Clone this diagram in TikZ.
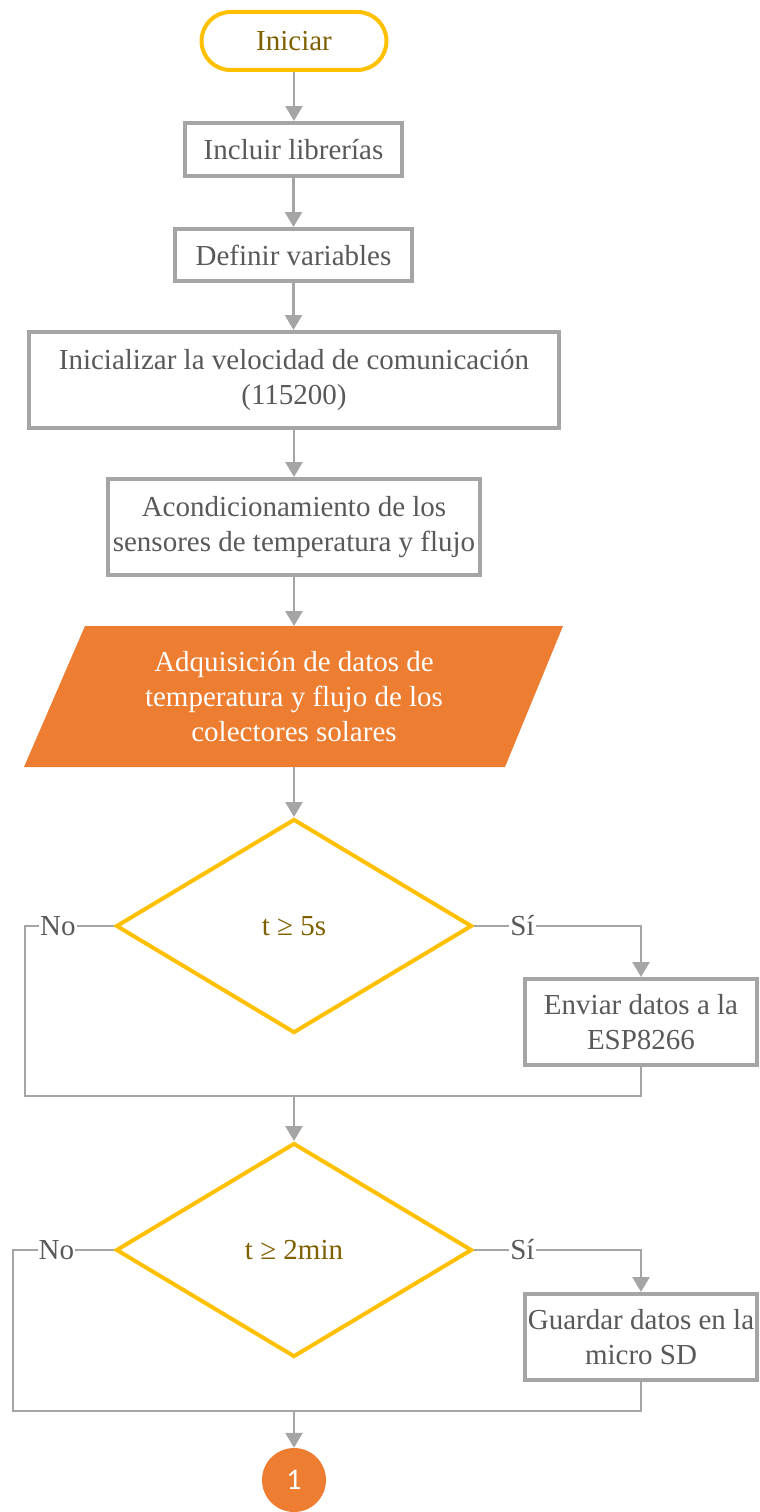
\documentclass[tikz,border=0pt]{standalone}
\usepackage{fontspec}
\setmainfont{Liberation Serif}
\newfontfamily\timesfont{Liberation Serif}
\newfontfamily\calibfont{Carlito}
\usetikzlibrary{shapes.geometric,arrows.meta}
\definecolor{ogold}{HTML}{FFC000}
\definecolor{dgold}{HTML}{7F6000}
\definecolor{lgray}{HTML}{A5A5A5}
\definecolor{tgray}{HTML}{595959}
\definecolor{orng}{HTML}{ED7D31}
\newcommand\bigfs{\timesfont\fontsize{29}{35}\selectfont}
\begin{document}
\begin{tikzpicture}[x=1pt,y=-1pt,
  startbox/.style={draw=ogold,line width=4pt,rounded corners=29pt,fill=white,text=dgold,
    minimum width=185pt,minimum height=58pt,inner sep=0pt,font=\bigfs},
  procbox/.style={draw=lgray,line width=4pt,fill=white,text=tgray,align=center,
    inner sep=0pt,font=\bigfs},
  decbox/.style={diamond,draw=ogold,line width=4pt,fill=white,text=dgold,
    minimum width=356pt,minimum height=214pt,inner sep=0pt,font=\bigfs},
  conn/.style={draw=lgray,line width=2.6pt,-{Triangle[width=17pt,length=15pt]}},
  plain/.style={draw=lgray,line width=2.6pt},
  lbl/.style={fill=white,text=tgray,inner sep=1pt,font=\bigfs}
]
\useasboundingbox (0,0) rectangle (760,1512);

\node[startbox] (ini) at (294,41) {Iniciar};
\node[procbox,minimum width=217pt,minimum height=53pt] (incl) at (293.5,149.5) {Incluir librerías};
\node[procbox,minimum width=237pt,minimum height=52pt] (def) at (293.5,255) {Definir variables};
\node[procbox,minimum width=530pt,minimum height=96pt] (vel) at (294,380) {Inicializar la velocidad de comunicación\\(115200)};
\node[procbox,minimum width=372pt,minimum height=96pt] (acond) at (294,527) {Acondicionamiento de los\\sensores de temperatura y flujo};

\fill[orng] (85,626) -- (563,626) -- (505,767) -- (24,767) -- cycle;
\coordinate (adqT) at (294,626);
\coordinate (adqB) at (294,767);
\node[text=white,align=center,font=\bigfs] (adq) at (294,697) {Adquisición de datos de\\temperatura y flujo de los\\colectores solares};

\node[decbox] (d1) at (294,926) {t ≥ 5s};
\node[procbox,minimum width=232pt,minimum height=86pt] (env) at (641,1022) {Enviar datos a la\\ESP8266};
\coordinate (m1) at (294,1096);

\node[decbox] (d2) at (294,1250) {t ≥ 2min};
\node[procbox,minimum width=232pt,minimum height=86pt] (sd) at (641,1337) {Guardar datos en la\\micro SD};
\coordinate (m2) at (294,1411);

\node[circle,fill=orng,minimum size=64pt,inner sep=0pt,text=white,font=\calibfont\fontsize{30}{36}\selectfont] (c1) at (294,1480) {1};

\draw[conn] (ini.south) -- (ini.south |- incl.north);
\draw[conn] (incl.south) -- (incl.south |- def.north);
\draw[conn] (def.south) -- (def.south |- vel.north);
\draw[conn] (vel.south) -- (acond.north);
\draw[conn] (acond.south) -- (adqT);
\draw[conn] (adqB) -- (d1.north);

\draw[conn] (d1.east) -- node[lbl,pos=0.29]{Sí} (d1.east -| env.north) -- (env.north);
\draw[plain] (d1.west) -- node[lbl,pos=0.63]{No} (25,926) |- (m1);
\draw[plain] (env.south) |- (m1);
\draw[conn] (m1) -- (d2.north);

\draw[conn] (d2.east) -- node[lbl,pos=0.29]{Sí} (d2.east -| sd.north) -- (sd.north);
\draw[plain] (d2.west) -- node[lbl,pos=0.57]{No} (13,1250) |- (m2);
\draw[plain] (sd.south) |- (m2);
\draw[conn] (m2) -- (c1.north);
\end{tikzpicture}
\end{document}
